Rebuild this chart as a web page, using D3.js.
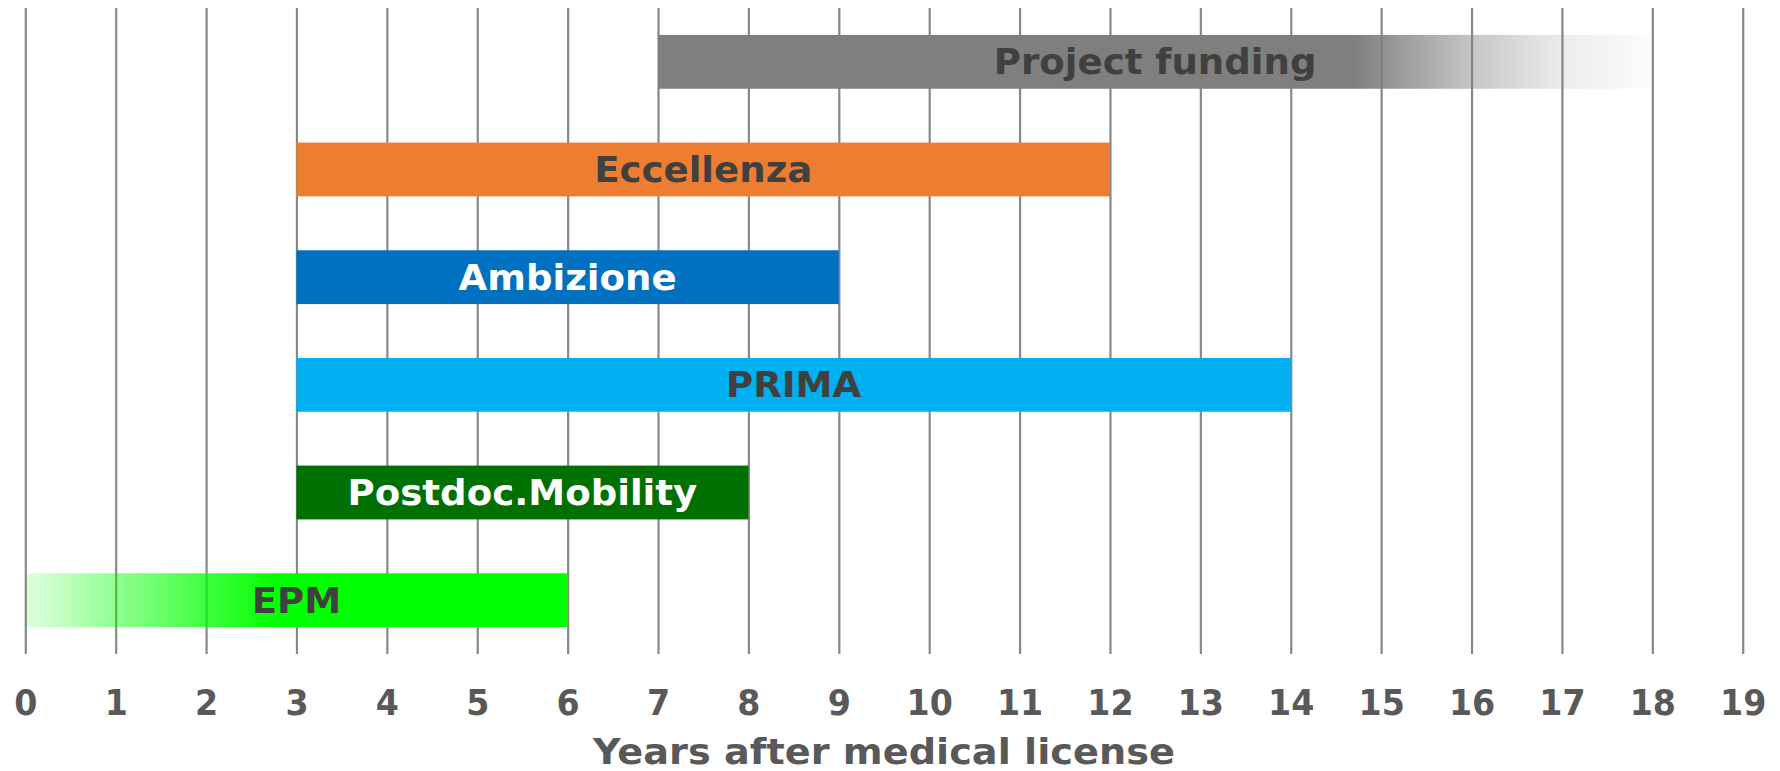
<!DOCTYPE html>
<html><head><meta charset="utf-8">
<script src="https://cdn.jsdelivr.net/npm/d3@7"></script>
<style>body{margin:0;background:#fff}svg{display:block}text{font-family:"DejaVu Sans",Verdana,sans-serif;font-weight:bold}</style>
</head><body><svg id="c" width="1780" height="771"></svg>
<script>
const categories = ["Project funding","Eccellenza","Ambizione","PRIMA","Postdoc.Mobility","EPM"];
const starts = [7,3,3,3,3,0];
const ends = [18,12,9,14,8,6];
const colors = ["#7f7f7f","#ed7d31","#0070c0","#00b0f0","#007000","#00ff00"];
const labelColors = ["#404040","#404040","#ffffff","#404040","#ffffff","#404040"];
const ticks = d3.range(0,20);
const xTitle = "Years after medical license";

const svg = d3.select("#c");
const x = d3.scaleLinear().domain([0,19]).range([25.3,1742.7]);
const y = d3.scaleBand().domain(categories).range([8,654]).paddingInner(0.5).paddingOuter(0.25);

function widen(sel, k){
  sel.each(function(){ const w=this.getComputedTextLength(); d3.select(this).attr("textLength",w*k).attr("lengthAdjust","spacingAndGlyphs"); });
}

const defs = svg.append("defs");
const g1 = defs.append("linearGradient").attr("id","gPF").attr("gradientUnits","userSpaceOnUse")
  .attr("x1",x(7)).attr("x2",x(18)).attr("y1",0).attr("y2",0);
[[0,1],[(14.7-7)/11,1],[(16-7)/11,0.45],[(17-7)/11,0.15],[1,0.02]].forEach(([o,a])=>
  g1.append("stop").attr("offset",o).attr("stop-color",colors[0]).attr("stop-opacity",a));
const g2 = defs.append("linearGradient").attr("id","gEPM").attr("gradientUnits","userSpaceOnUse")
  .attr("x1",x(0)).attr("x2",x(6)).attr("y1",0).attr("y2",0);
[[0,0.12],[1/6,0.43],[2/6,0.75],[2.8/6,1],[1,1]].forEach(([o,a])=>
  g2.append("stop").attr("offset",o).attr("stop-color",colors[5]).attr("stop-opacity",a));

const grid = svg.append("g").attr("transform","translate(0,654)")
  .call(d3.axisBottom(x).tickValues(ticks).tickSize(-646).tickFormat(""));
grid.select(".domain").remove();
grid.selectAll("line").attr("stroke","#888").attr("stroke-width",2.2);

const fills = categories.map((c,i)=> i===0 ? "url(#gPF)" : i===5 ? "url(#gEPM)" : colors[i]);
svg.append("g").selectAll("rect").data(categories).join("rect")
  .attr("x",(d,i)=>x(starts[i])).attr("width",(d,i)=>x(ends[i])-x(starts[i]))
  .attr("y",d=>y(d)).attr("height",y.bandwidth())
  .attr("fill",(d,i)=>fills[i]);

const labels = svg.append("g").selectAll("text").data(categories).join("text")
  .attr("x",(d,i)=>x((starts[i]+ends[i])/2)).attr("y",d=>y(d)+y.bandwidth()/2)
  .attr("dy","0.36em").attr("text-anchor","middle")
  .attr("font-size",35).attr("fill",(d,i)=>labelColors[i]).text(d=>d);
widen(labels, 1.06);

const ax = svg.append("g").attr("transform","translate(0,654)")
  .call(d3.axisBottom(x).tickValues(ticks).tickSize(0).tickPadding(0).tickFormat(d3.format("d")));
ax.select(".domain").remove();
const tl = ax.selectAll("text").attr("y",61).attr("dy",0).attr("font-size",35).attr("fill","#595959")
  .style("font-family","'DejaVu Sans',Verdana,sans-serif").style("font-weight","bold");
widen(tl, 0.95);

const t = svg.append("text").attr("x",(x(0)+x(19))/2).attr("y",764).attr("text-anchor","middle")
  .attr("font-size",35).attr("fill","#595959").text(xTitle);
widen(t, 1.093);
</script></body></html>
